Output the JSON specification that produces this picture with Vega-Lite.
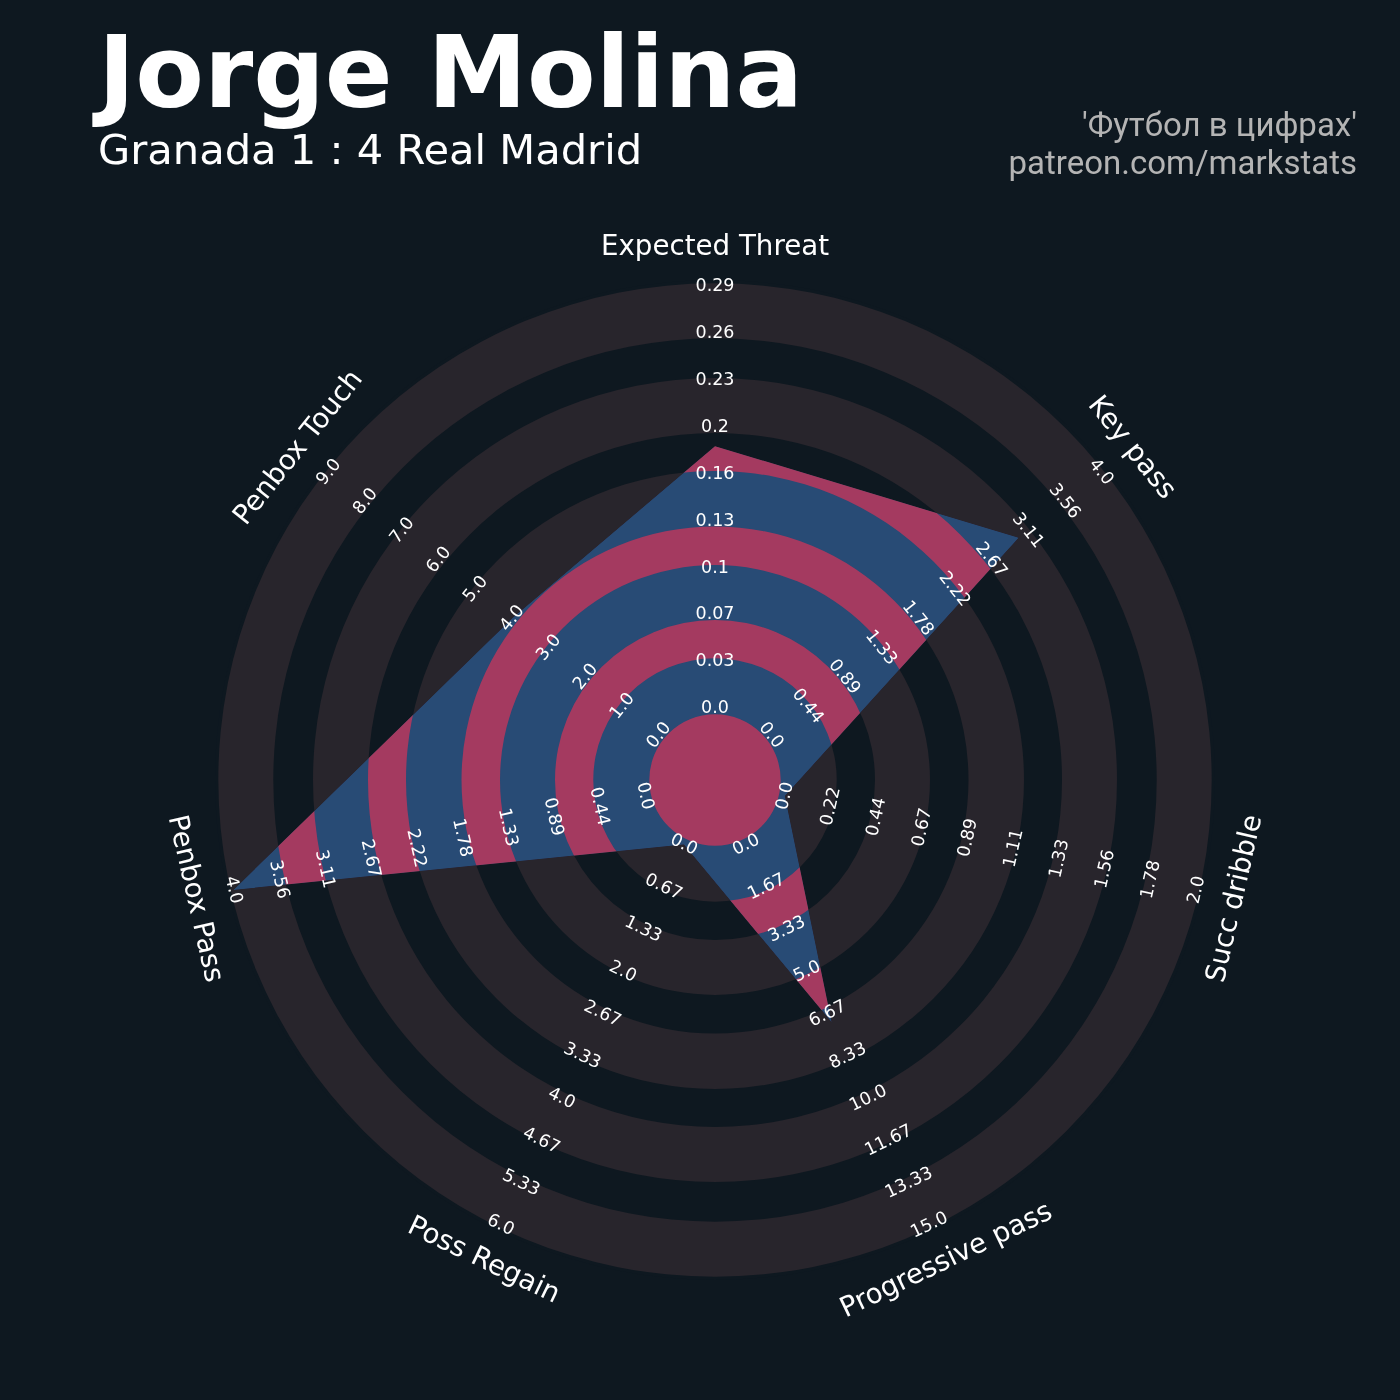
{
  "$schema": "https://vega.github.io/schema/vega-lite/v6.json",
  "width": 1400,
  "height": 1400,
  "autosize": "none",
  "padding": 0,
  "background": "#0e1820",
  "config": {"view": {"stroke": null}, "font": "DejaVu Sans"},
  "datasets": {
    "metrics": [
      {"metric": "Expected Threat", "idx": 0, "value": 0.18, "lo": 0, "hi": 0.29},
      {"metric": "Key pass", "idx": 1, "value": 3, "lo": 0, "hi": 4},
      {"metric": "Succ dribble", "idx": 2, "value": 0, "lo": 0, "hi": 2},
      {"metric": "Progressive pass", "idx": 3, "value": 7, "lo": 0, "hi": 15},
      {"metric": "Poss Regain", "idx": 4, "value": 0, "lo": 0, "hi": 6},
      {"metric": "Penbox Pass", "idx": 5, "value": 4, "lo": 0, "hi": 4},
      {"metric": "Penbox Touch", "idx": 6, "value": 4, "lo": 0, "hi": 9}
    ],
    "ticks": [
      {"idx": 0, "labels": ["0.0","0.03","0.07","0.1","0.13","0.16","0.2","0.23","0.26","0.29"], "k": [0,1,2,3,4,5,6,7,8,9]},
      {"idx": 1, "labels": ["0.0","0.44","0.89","1.33","1.78","2.22","2.67","3.11","3.56","4.0"], "k": [0,1,2,3,4,5,6,7,8,9]},
      {"idx": 2, "labels": ["0.0","0.22","0.44","0.67","0.89","1.11","1.33","1.56","1.78","2.0"], "k": [0,1,2,3,4,5,6,7,8,9]},
      {"idx": 3, "labels": ["0.0","1.67","3.33","5.0","6.67","8.33","10.0","11.67","13.33","15.0"], "k": [0,1,2,3,4,5,6,7,8,9]},
      {"idx": 4, "labels": ["0.0","0.67","1.33","2.0","2.67","3.33","4.0","4.67","5.33","6.0"], "k": [0,1,2,3,4,5,6,7,8,9]},
      {"idx": 5, "labels": ["0.0","0.44","0.89","1.33","1.78","2.22","2.67","3.11","3.56","4.0"], "k": [0,1,2,3,4,5,6,7,8,9]},
      {"idx": 6, "labels": ["0.0","1.0","2.0","3.0","4.0","5.0","6.0","7.0","8.0","9.0"], "k": [0,1,2,3,4,5,6,7,8,9]}
    ],
    "rings": [
      {"kind": "dark", "r1": 0, "r2": 65.7},
      {"kind": "gray", "r1": 65.7, "r2": 121.7},
      {"kind": "dark", "r1": 121.7, "r2": 160},
      {"kind": "gray", "r1": 160, "r2": 215},
      {"kind": "dark", "r1": 215, "r2": 253.5},
      {"kind": "gray", "r1": 253.5, "r2": 309},
      {"kind": "dark", "r1": 309, "r2": 347},
      {"kind": "gray", "r1": 347, "r2": 402},
      {"kind": "dark", "r1": 402, "r2": 441.7},
      {"kind": "gray", "r1": 441.7, "r2": 496.7}
    ]
  },
  "layer": [
    {
      "data": {"values": [{"r1": 0, "r2": 500}]},
      "mark": {"type": "arc", "theta": 0, "theta2": 6.2832, "fill": "#0e1820"},
      "encoding": {
        "x": {"datum": 0, "type": "quantitative", "scale": {"domain": [-715, 685], "nice": false, "zero": false}, "axis": null},
        "y": {"datum": 0, "type": "quantitative", "scale": {"domain": [-620, 780], "nice": false, "zero": false}, "axis": null},
        "radius": {"field": "r2", "type": "quantitative", "scale": {"type": "linear", "domain": [0, 500], "range": [0, 500], "zero": true, "nice": false}},
        "radius2": {"field": "r1"}
      }
    },
    {
      "data": {"name": "metrics"},
      "transform": [
        {"calculate": "71.7 + (datum.value - datum.lo) / (datum.hi - datum.lo) * 422.3", "as": "r"},
        {"calculate": "datum.idx * 2 * PI / 7", "as": "ang"},
        {"calculate": "datum.r * sin(datum.ang)", "as": "px"},
        {"calculate": "datum.r * cos(datum.ang)", "as": "py"}
      ],
      "mark": {"type": "line", "interpolate": "linear-closed", "fill": "#a44b75", "strokeOpacity": 0, "strokeWidth": 0},
      "encoding": {
        "x": {"field": "px", "type": "quantitative", "scale": {"domain": [-715, 685], "nice": false, "zero": false}, "axis": null},
        "y": {"field": "py", "type": "quantitative", "scale": {"domain": [-620, 780], "nice": false, "zero": false}, "axis": null},
        "order": {"field": "idx", "type": "quantitative"}
      }
    },
    {
      "data": {"name": "rings"},
      "transform": [{"filter": "datum.kind == 'gray'"}],
      "mark": {"type": "arc", "theta": 0, "theta2": 6.2832, "fill": "#28252c", "blend": "lighten"},
      "encoding": {
        "x": {"datum": 0, "type": "quantitative", "scale": {"domain": [-715, 685], "nice": false, "zero": false}, "axis": null},
        "y": {"datum": 0, "type": "quantitative", "scale": {"domain": [-620, 780], "nice": false, "zero": false}, "axis": null},
        "radius": {"field": "r2", "type": "quantitative", "scale": {"type": "linear", "domain": [0, 500], "range": [0, 500], "zero": true, "nice": false}},
        "radius2": {"field": "r1"}
      }
    },
    {
      "data": {"name": "rings"},
      "transform": [{"filter": "datum.kind == 'gray'"}],
      "mark": {"type": "arc", "theta": 0, "theta2": 6.2832, "fill": "#284b75", "blend": "darken"},
      "encoding": {
        "x": {"datum": 0, "type": "quantitative", "scale": {"domain": [-715, 685], "nice": false, "zero": false}, "axis": null},
        "y": {"datum": 0, "type": "quantitative", "scale": {"domain": [-620, 780], "nice": false, "zero": false}, "axis": null},
        "radius": {"field": "r2", "type": "quantitative", "scale": {"type": "linear", "domain": [0, 500], "range": [0, 500], "zero": true, "nice": false}},
        "radius2": {"field": "r1"}
      }
    },
    {
      "data": {"name": "rings"},
      "transform": [{"filter": "datum.kind == 'dark'"}],
      "mark": {"type": "arc", "theta": 0, "theta2": 6.2832, "fill": "#a43a60", "blend": "darken"},
      "encoding": {
        "x": {"datum": 0, "type": "quantitative", "scale": {"domain": [-715, 685], "nice": false, "zero": false}, "axis": null},
        "y": {"datum": 0, "type": "quantitative", "scale": {"domain": [-620, 780], "nice": false, "zero": false}, "axis": null},
        "radius": {"field": "r2", "type": "quantitative", "scale": {"type": "linear", "domain": [0, 500], "range": [0, 500], "zero": true, "nice": false}},
        "radius2": {"field": "r1"}
      }
    },
    {
      "data": {"name": "ticks"},
      "transform": [
        {"flatten": ["labels", "k"]},
        {"calculate": "71.7 + datum.k * 46.92", "as": "r"},
        {"calculate": "datum.idx * 360 / 7", "as": "deg"},
        {"calculate": "datum.r * sin(datum.deg * PI / 180)", "as": "px"},
        {"calculate": "datum.r * cos(datum.deg * PI / 180)", "as": "py"},
        {"calculate": "datum.deg <= 90 ? datum.deg : (datum.deg < 270 ? datum.deg - 180 : datum.deg - 360)", "as": "rot"}
      ],
      "mark": {"type": "text", "font": "DejaVu Sans", "fontSize": 17.5, "color": "#ffffff", "align": "center", "baseline": "middle"},
      "encoding": {
        "x": {"field": "px", "type": "quantitative", "scale": {"domain": [-715, 685], "nice": false, "zero": false}, "axis": null},
        "y": {"field": "py", "type": "quantitative", "scale": {"domain": [-620, 780], "nice": false, "zero": false}, "axis": null},
        "text": {"field": "labels", "type": "nominal"},
        "angle": {"field": "rot", "type": "quantitative", "scale": null}
      }
    },
    {
      "data": {"name": "metrics"},
      "transform": [
        {"calculate": "datum.idx * 360 / 7", "as": "deg"},
        {"calculate": "533 * sin(datum.deg * PI / 180)", "as": "px"},
        {"calculate": "533 * cos(datum.deg * PI / 180)", "as": "py"},
        {"calculate": "datum.deg <= 90 ? datum.deg : (datum.deg < 270 ? datum.deg - 180 : datum.deg - 360)", "as": "rot"}
      ],
      "mark": {"type": "text", "font": "DejaVu Sans", "fontSize": 27.7, "color": "#ffffff", "align": "center", "baseline": "middle"},
      "encoding": {
        "x": {"field": "px", "type": "quantitative", "scale": {"domain": [-715, 685], "nice": false, "zero": false}, "axis": null},
        "y": {"field": "py", "type": "quantitative", "scale": {"domain": [-620, 780], "nice": false, "zero": false}, "axis": null},
        "text": {"field": "metric", "type": "nominal"},
        "angle": {"field": "rot", "type": "quantitative", "scale": null}
      }
    },
    {
      "data": {"values": [{"title": "Jorge Molina"}]},
      "mark": {"type": "text", "font": "DejaVu Sans", "fontWeight": "bold", "fontSize": 100, "color": "#ffffff", "align": "left", "baseline": "alphabetic"},
      "encoding": {
        "x": {"datum": -617, "type": "quantitative", "scale": {"domain": [-715, 685], "nice": false, "zero": false}, "axis": null},
        "y": {"datum": 673, "type": "quantitative", "scale": {"domain": [-620, 780], "nice": false, "zero": false}, "axis": null},
        "text": {"field": "title", "type": "nominal"}
      }
    },
    {
      "data": {"values": [{"subtitle": "Granada 1 : 4 Real Madrid"}]},
      "mark": {"type": "text", "font": "DejaVu Sans", "fontSize": 41.6, "color": "#ffffff", "align": "left", "baseline": "alphabetic"},
      "encoding": {
        "x": {"datum": -617, "type": "quantitative", "scale": {"domain": [-715, 685], "nice": false, "zero": false}, "axis": null},
        "y": {"datum": 616, "type": "quantitative", "scale": {"domain": [-620, 780], "nice": false, "zero": false}, "axis": null},
        "text": {"field": "subtitle", "type": "nominal"}
      }
    },
    {
      "data": {"values": [{"credit": "'Футбол в цифрах'\npatreon.com/markstats"}]},
      "mark": {"type": "text", "font": "Roboto", "fontSize": 33, "color": "#b4b4b4", "align": "right", "baseline": "alphabetic", "lineBreak": "\n", "lineHeight": 38},
      "encoding": {
        "x": {"datum": 642, "type": "quantitative", "scale": {"domain": [-715, 685], "nice": false, "zero": false}, "axis": null},
        "y": {"datum": 644, "type": "quantitative", "scale": {"domain": [-620, 780], "nice": false, "zero": false}, "axis": null},
        "text": {"field": "credit", "type": "nominal"}
      }
    }
  ]
}
